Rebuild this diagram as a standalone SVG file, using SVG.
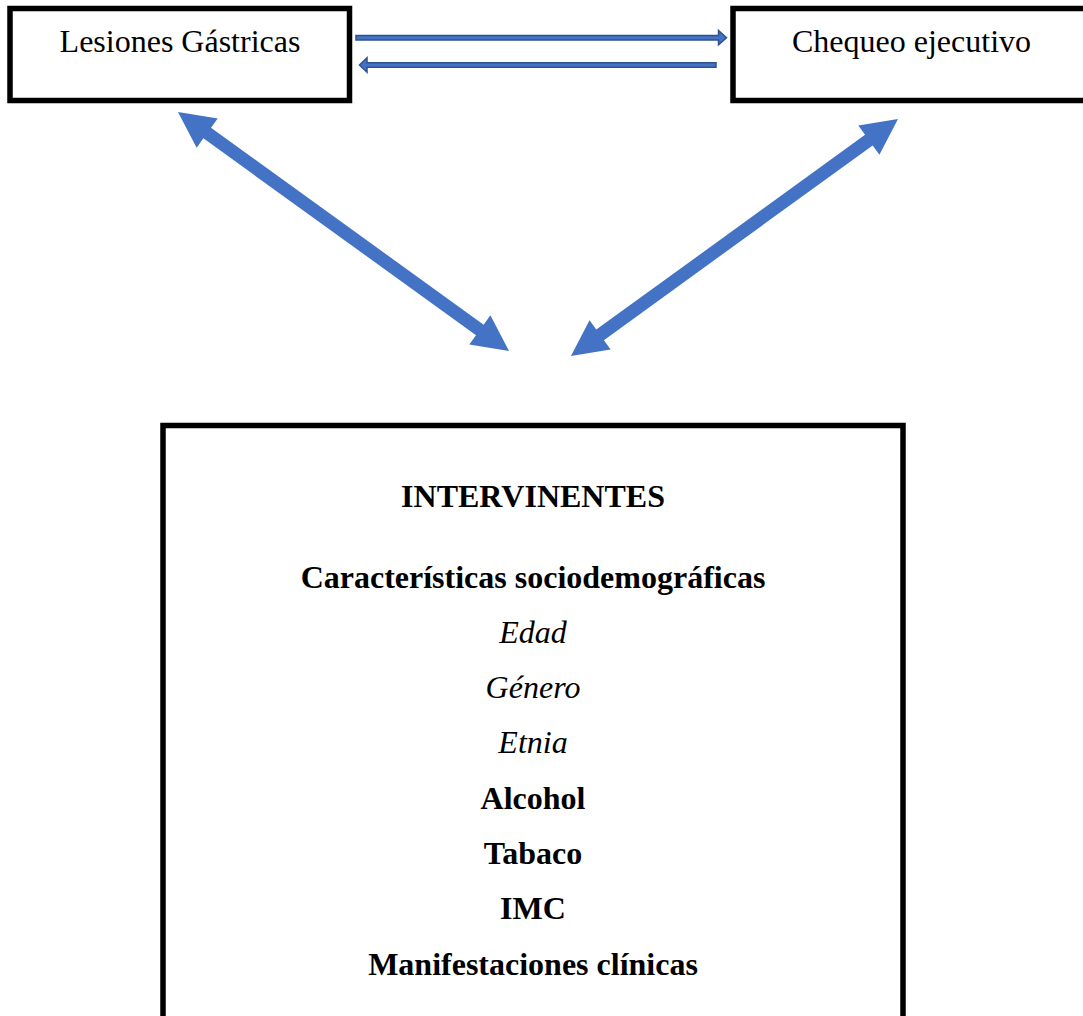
<svg xmlns="http://www.w3.org/2000/svg" width="1083" height="1016" viewBox="0 0 1083 1016">
  <style>
    .box { fill: #ffffff; stroke: #000000; stroke-width: 5.5; }
    .lbl { font-family: 'Liberation Serif', serif; font-size: 32px; fill: #000000; text-anchor: middle; }
    .b { font-weight: bold; }
    .i { font-style: italic; }
    .thin { fill: #4472C4; stroke: #2F528F; stroke-width: 1.5; }
    .thick { fill: #4472C4; stroke: none; }
  </style>
  <rect width="1083" height="1016" fill="#ffffff"/>
  <g id="node-lesiones">
    <rect class="box" x="10" y="8.5" width="339.5" height="92"/>
    <text class="lbl" x="180" y="52">Lesiones Gástricas</text>
  </g>
  <g id="node-chequeo">
    <rect class="box" x="733" y="8.5" width="380" height="92"/>
    <text class="lbl" x="911.5" y="52">Chequeo ejecutivo</text>
  </g>
  <g id="node-intervinentes">
    <rect class="box" x="163" y="425.5" width="740" height="620"/>
    <text class="lbl b" x="533" y="507">INTERVINENTES</text>
    <text class="lbl b" x="533" y="588">Características sociodemográficas</text>
    <text class="lbl i" x="533" y="643">Edad</text>
    <text class="lbl i" x="533" y="698">Género</text>
    <text class="lbl i" x="533" y="753">Etnia</text>
    <text class="lbl b" x="533" y="809">Alcohol</text>
    <text class="lbl b" x="533" y="864">Tabaco</text>
    <text class="lbl b" x="533" y="919">IMC</text>
    <text class="lbl b" x="533" y="975">Manifestaciones clínicas</text>
  </g>
  <g id="connectors">
    <polygon class="thin" points="356,35.5 718.5,35.5 718.5,30.5 726.5,37.7 718.5,44.8 718.5,40 356,40"/>
    <polygon class="thin" points="716,62.7 367,62.7 367,57.8 359.5,65 367,72.2 367,67.3 716,67.3"/>
    <polygon class="thick" transform="translate(178,112) rotate(35.83)" points="0,0 36,-18 36,-6.5 372.3,-6.5 372.3,-18 408.3,0 372.3,18 372.3,6.5 36,6.5 36,18"/>
    <polygon class="thick" transform="translate(898,119) rotate(144.07)" points="0,0 36,-18 36,-6.5 367.9,-6.5 367.9,-18 403.9,0 367.9,18 367.9,6.5 36,6.5 36,18"/>
  </g>
</svg>
